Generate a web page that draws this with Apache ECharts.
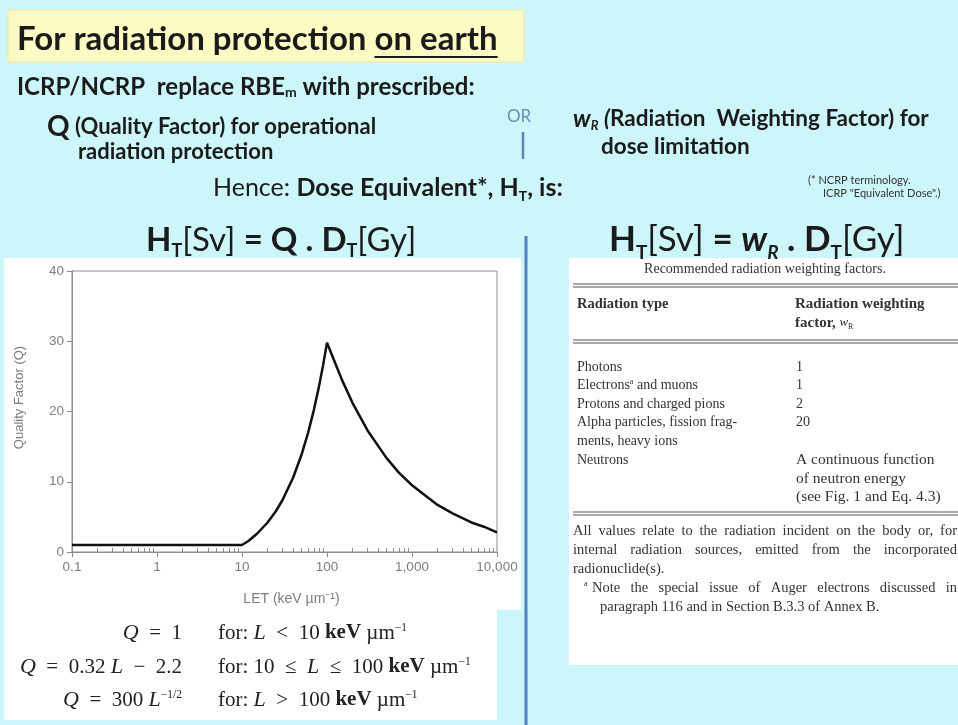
<!DOCTYPE html>
<html>
<head>
<meta charset="utf-8">
<script src="https://cdn.jsdelivr.net/npm/echarts@6/dist/echarts.min.js"></script>
<style>
  html, body { margin: 0; padding: 0; background: #cdf6fa; }
  #main { width: 958px; height: 725px; }
</style>
</head>
<body>
<div id="main"></div>
<script>
// Q vs LET curve
const letValues = [0.1, 1, 5, 10, 12, 15, 20, 25, 30, 40, 50, 60, 70, 80, 90, 100, 120, 150, 200, 300, 500, 700, 1000, 2000, 3000, 5000, 7000, 10000];
const qValues = [1, 1, 1, 1, 1.6, 2.6, 4.2, 5.8, 7.4, 10.6, 13.8, 17, 20.2, 23.4, 26.6, 29.8, 27.4, 24.5, 21.2, 17.3, 13.4, 11.3, 9.5, 6.7, 5.5, 4.2, 3.6, 2.8];
const xTickLabels = ['0.1', '1', '10', '100', '1,000', '10,000'];
const yTickLabels = ['0', '10', '20', '30', '40'];

// weighting factor table
const radiationTypes = ['Photons', 'Electrons{sup|a} and muons', 'Protons and charged pions', 'Alpha particles, fission frag-', 'ments, heavy ions', 'Neutrons'];
const weightFactors = ['1', '1', '2', '20', '', 'A continuous function'];
const neutronNote = ['of neutron energy', '(see Fig. 1 and Eq. 4.3)'];

const SANS = 'Lato, "Open Sans", sans-serif';
const SERIF = '"Liberation Serif", "DejaVu Serif", serif';
const INK = '#1b1b1b';
const TABLE_INK = '#333';

const chart = echarts.init(document.getElementById('main'));

const ctx = document.createElement('canvas').getContext('2d');
function textWidth(str, font) {
    ctx.font = font;
    return ctx.measureText(str).width;
}

// little helper for text graphics
function txt(x, y, text, style) {
    return {
        type: 'text', x: x, y: y, z: 5,
        style: Object.assign({
            text: text, fill: INK, fontFamily: SANS, fontSize: 18,
            align: 'left', verticalAlign: 'middle'
        }, style || {})
    };
}

// spread words across x0..x1 like the justified book text
function justified(x0, x1, y, line, size) {
    const font = size + 'px ' + SERIF;
    const words = line.split(' ');
    const total = words.reduce(function (s, w) { return s + textWidth(w, font); }, 0);
    const gap = (x1 - x0 - total) / (words.length - 1);
    const out = [];
    let x = x0;
    words.forEach(function (w) {
        out.push(txt(x, y, w, { fontFamily: SERIF, fontSize: size, fill: TABLE_INK }));
        x += textWidth(w, font) + gap;
    });
    return out;
}

function subRich(size, subSize) {
    return {
        b: { fontWeight: 'bold', fontSize: size, fontFamily: SANS, lineHeight: size * 1.25, fill: INK },
        n: { fontWeight: 'normal', fontSize: size, fontFamily: SANS, lineHeight: size * 1.25, fill: INK },
        bi: { fontWeight: 'bold', fontStyle: 'italic', fontSize: size, fontFamily: SANS, lineHeight: size * 1.25, fill: INK },
        s: { fontWeight: 'bold', fontSize: subSize, fontFamily: SANS, lineHeight: subSize * 1.2, verticalAlign: 'bottom', fill: INK },
        si: { fontWeight: 'bold', fontStyle: 'italic', fontSize: subSize, fontFamily: SANS, lineHeight: subSize * 1.2, verticalAlign: 'bottom', fill: INK }
    };
}

const titleFont = 'bold 33px ' + SANS;
const titleLead = 'For radiation protection ';
const ulStart = 17 + textWidth(titleLead, titleFont);
const ulEnd = ulStart + textWidth('on earth', titleFont);

const serifRich = {
    i: { fontStyle: 'italic', fontFamily: SERIF, fontSize: 22, fill: '#222' },
    b: { fontWeight: 'bold', fontFamily: SERIF, fontSize: 21, fill: '#222' },
    sup: { fontFamily: SERIF, fontSize: 11.5, verticalAlign: 'top', lineHeight: 23, fill: '#222' }
};

const tableRich = {
    sup: { fontFamily: SERIF, fontSize: 8, verticalAlign: 'top', lineHeight: 16, fill: TABLE_INK }
};

const SP = '\u2002'; // en space for math spacing

const graphics = [
    // panels
    { type: 'rect', z: -10, shape: { x: 8, y: 10, width: 516, height: 52 }, style: { fill: '#fdfbc4', stroke: '#efe59a', lineWidth: 1 } },
    { type: 'rect', z: -10, shape: { x: 4, y: 258, width: 517, height: 352 }, style: { fill: '#ffffff' } },
    { type: 'rect', z: -10, shape: { x: 4, y: 610, width: 493, height: 110 }, style: { fill: '#ffffff' } },
    { type: 'rect', z: -10, shape: { x: 569, y: 258, width: 389, height: 407 }, style: { fill: '#ffffff' } },
    // dividers
    { type: 'line', z: 4, shape: { x1: 526, y1: 236, x2: 526, y2: 725 }, style: { stroke: '#5280bd', lineWidth: 3 } },
    { type: 'line', z: 4, shape: { x1: 523, y1: 132, x2: 523, y2: 159 }, style: { stroke: '#5f84b3', lineWidth: 2.5 } },

    // heading
    txt(17, 39, 'For radiation protection on earth', { fontSize: 33, fontWeight: 'bold' }),
    { type: 'line', z: 5, shape: { x1: ulStart, y1: 57, x2: ulEnd, y2: 57 }, style: { stroke: INK, lineWidth: 2 } },
    txt(17, 87, 'ICRP/NCRP  replace RBE{s|m} with prescribed:', {
        fontSize: 24, fontWeight: 'bold', rich: subRich(24, 14)
    }),
    txt(47, 127, '{q|Q} (Quality Factor) for operational', {
        fontSize: 22, fontWeight: 'bold',
        rich: { q: { fontSize: 28, fontWeight: 'bold', fontFamily: SANS, fill: INK } }
    }),
    txt(78, 152, 'radiation protection', { fontSize: 22, fontWeight: 'bold' }),
    txt(507, 117, 'OR', { fontSize: 17, fill: '#6a8db8' }),
    txt(573, 119, '{bi|w}{si|R} {ii|(}Radiation  Weighting Factor) for', {
        fontSize: 22.5, fontWeight: 'bold',
        rich: Object.assign(subRich(22.5, 13), {
            bi: { fontWeight: 'bold', fontStyle: 'italic', fontSize: 24, fontFamily: SANS, fill: INK, lineHeight: 27 },
            ii: { fontWeight: 'bold', fontStyle: 'italic', fontSize: 22.5, fontFamily: SANS, fill: INK, lineHeight: 27 }
        })
    }),
    txt(601, 147, 'dose limitation', { fontSize: 22.5, fontWeight: 'bold' }),
    txt(213, 188, '{n|Hence: }Dose Equivalent*, H{s|T}, is:', {
        fontSize: 25, fontWeight: 'bold', rich: subRich(25, 14)
    }),
    txt(808, 180, '(* NCRP terminology.', { fontSize: 11, fill: '#333', fontFamily: SANS }),
    txt(823, 193, 'ICRP "Equivalent Dose".)', { fontSize: 11, fill: '#333', fontFamily: SANS }),

    // dose equivalent formulas
    txt(146, 240, '{b|H}{s|T}{n|[Sv] }{b|= Q . D}{s|T}{n|[Gy]}', { fontSize: 33, rich: subRich(33, 18) }),
    txt(609, 240, '{b|H}{s|T}{n|[Sv] }{b|= }{bi|w}{si|R}{b| . D}{s|T}{n|[Gy]}', { fontSize: 35, rich: subRich(35, 19) }),

    // Q(L) definitions
    txt(182, 633, '{i|Q}' + SP + '=' + SP + '1', { align: 'right', fontFamily: SERIF, fontSize: 21, fill: '#222', rich: serifRich }),
    txt(182, 667, '{i|Q}' + SP + '=' + SP + '0.32 {i|L}' + SP + '−' + SP + '2.2', { align: 'right', fontFamily: SERIF, fontSize: 21, fill: '#222', rich: serifRich }),
    txt(182, 700, '{i|Q}' + SP + '=' + SP + '300 {i|L}{sup|−1/2}', { align: 'right', fontFamily: SERIF, fontSize: 21, fill: '#222', rich: serifRich }),
    txt(218, 633, 'for: {i|L}' + SP + '<' + SP + '10 {b|keV} µm{sup|−1}', { fontFamily: SERIF, fontSize: 21, fill: '#222', rich: serifRich }),
    txt(218, 667, 'for: 10' + SP + '≤' + SP + '{i|L}' + SP + '≤' + SP + '100 {b|keV} µm{sup|−1}', { fontFamily: SERIF, fontSize: 21, fill: '#222', rich: serifRich }),
    txt(218, 700, 'for: {i|L}' + SP + '>' + SP + '100 {b|keV} µm{sup|−1}', { fontFamily: SERIF, fontSize: 21, fill: '#222', rich: serifRich }),

    // table
    txt(765, 269, 'Recommended radiation weighting factors.', { align: 'center', fontFamily: SERIF, fontSize: 14, fill: TABLE_INK }),
    { type: 'line', z: 4, shape: { x1: 573, y1: 284, x2: 958, y2: 284 }, style: { stroke: '#555', lineWidth: 1 } },
    { type: 'line', z: 4, shape: { x1: 573, y1: 287, x2: 958, y2: 287 }, style: { stroke: '#555', lineWidth: 1 } },
    txt(577, 304, 'Radiation type', { fontFamily: SERIF, fontSize: 14.5, fontWeight: 'bold', fill: TABLE_INK }),
    txt(795, 304, 'Radiation weighting', { fontFamily: SERIF, fontSize: 15, fontWeight: 'bold', fill: TABLE_INK }),
    txt(795, 323, 'factor, {w|w}{r|R}', {
        fontFamily: SERIF, fontSize: 15, fontWeight: 'bold', fill: TABLE_INK,
        rich: {
            w: { fontFamily: SERIF, fontSize: 13, fontStyle: 'italic', fill: TABLE_INK },
            r: { fontFamily: SERIF, fontSize: 8, verticalAlign: 'bottom', lineHeight: 12, fill: TABLE_INK }
        }
    }),
    { type: 'line', z: 4, shape: { x1: 573, y1: 340, x2: 958, y2: 340 }, style: { stroke: '#555', lineWidth: 1 } },
    { type: 'line', z: 4, shape: { x1: 573, y1: 343, x2: 958, y2: 343 }, style: { stroke: '#555', lineWidth: 1 } },
    { type: 'line', z: 4, shape: { x1: 573, y1: 512, x2: 958, y2: 512 }, style: { stroke: '#555', lineWidth: 1 } },
    { type: 'line', z: 4, shape: { x1: 573, y1: 515, x2: 958, y2: 515 }, style: { stroke: '#555', lineWidth: 1 } },
    txt(573, 569, 'radionuclide(s).', { fontFamily: SERIF, fontSize: 14.5, fill: TABLE_INK }),
    txt(584, 588, '{sup|a}', { fontFamily: SERIF, fontSize: 14.5, fill: TABLE_INK, rich: tableRich }),
    txt(600, 607, 'paragraph 116 and in Section B.3.3 of Annex B.', { fontFamily: SERIF, fontSize: 14.5, fill: TABLE_INK })
].concat(
    justified(573, 957, 531, 'All values relate to the radiation incident on the body or, for', 14.5),
    justified(573, 957, 550, 'internal radiation sources, emitted from the incorporated', 14.5),
    justified(592, 957, 588, 'Note the special issue of Auger electrons discussed in', 14.5)
);

radiationTypes.forEach(function (t, i) {
    const y = 367 + i * 18.6;
    graphics.push(txt(577, y, t, { fontFamily: SERIF, fontSize: 14, fill: TABLE_INK, rich: tableRich }));
    if (weightFactors[i]) {
        graphics.push(txt(796, y, weightFactors[i], { fontFamily: SERIF, fontSize: i === 5 ? 15.5 : 14, fill: TABLE_INK }));
    }
});
neutronNote.forEach(function (t, i) {
    graphics.push(txt(796, 367 + (6 + i) * 18.6, t, { fontFamily: SERIF, fontSize: 15.5, fill: TABLE_INK }));
});

// minor log ticks 2..9 in each decade (positions in log10 space)
const minorTicks = [];
for (let d = -1; d < 4; d++) {
    for (let k = 2; k <= 9; k++) minorTicks.push(d + Math.log10(k));
}

const axisGray = '#8c8c8c';
const labelStyle = { color: '#7d7d7d', fontSize: 13.5, fontFamily: '"Liberation Sans", Arial, sans-serif' };

const option = {
    backgroundColor: '#cdf6fa',
    animation: false,
    grid: {
        left: 72, right: 461, top: 271, bottom: 173,
        show: true, borderColor: axisGray, borderWidth: 1, backgroundColor: 'transparent'
    },
    xAxis: [
        {
            type: 'log', logBase: 10, min: 0.1, max: 10000,
            name: 'LET (keV µm⁻¹)', nameLocation: 'middle', nameGap: 40,
            nameTextStyle: Object.assign({}, labelStyle, { fontSize: 14, padding: [0, 0, 0, 14] }),
            axisLine: { onZero: false, lineStyle: { color: axisGray } },
            axisTick: { show: true, length: 5, lineStyle: { color: axisGray } },
            axisLabel: Object.assign({
                margin: 8,
                formatter: function (v) {
                    return xTickLabels[Math.round(Math.log10(v)) + 1];
                }
            }, labelStyle),
            splitLine: { show: false }
        },
        {
            type: 'value', min: -1, max: 4, position: 'bottom',
            axisLine: { show: false, onZero: false },
            axisLabel: { show: false },
            splitLine: { show: false },
            axisTick: { show: true, inside: true, length: 4, customValues: minorTicks, lineStyle: { color: axisGray } }
        }
    ],
    yAxis: {
        type: 'value', min: 0, max: 40, interval: 10,
        name: 'Quality Factor (Q)', nameLocation: 'middle', nameGap: 46, nameRotate: 90,
        nameTextStyle: { color: '#7d7d7d', fontSize: 13, fontFamily: '"Liberation Sans", Arial, sans-serif', padding: [0, 0, 0, 28] },
        axisLine: { show: true, onZero: false, lineStyle: { color: axisGray } },
        axisTick: { show: true, length: 5, lineStyle: { color: axisGray } },
        axisLabel: Object.assign({
            formatter: function (v) { return yTickLabels[v / 10]; }
        }, labelStyle),
        splitLine: { show: false }
    },
    series: [{
        type: 'line',
        xAxisIndex: 0,
        showSymbol: false,
        data: letValues.map(function (l, i) { return [l, qValues[i]]; }),
        lineStyle: { color: '#111', width: 2.5 },
        z: 3
    }],
    graphic: graphics
};

chart.setOption(option);
</script>
</body>
</html>
